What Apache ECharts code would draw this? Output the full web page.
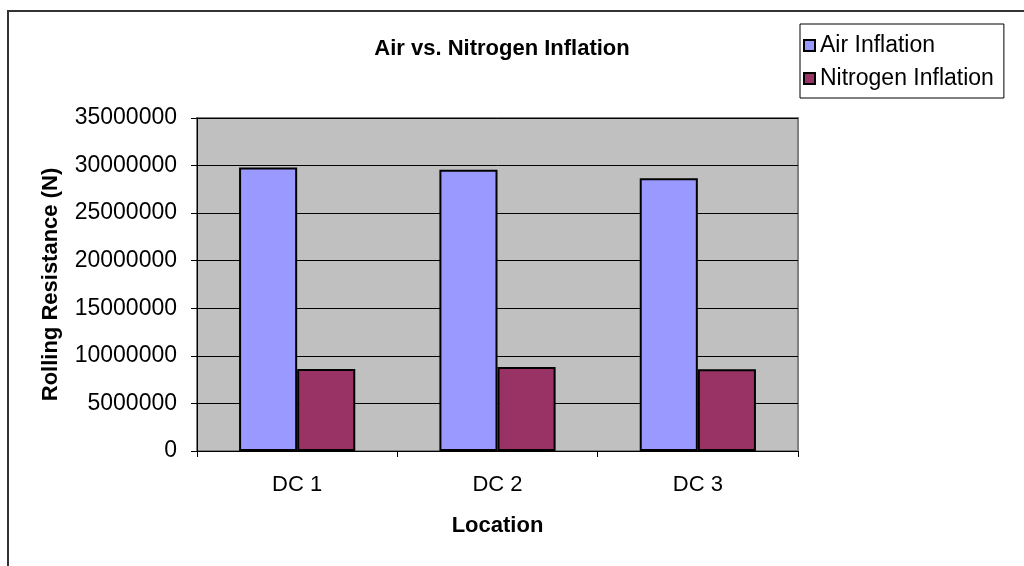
<!DOCTYPE html>
<html>
<head>
<meta charset="utf-8">
<script src="https://cdn.jsdelivr.net/npm/echarts@6/dist/echarts.min.js"></script>
<style>html,body{margin:0;padding:0;background:#fff;}#c{width:1024px;height:566px;}</style>
</head>
<body>
<div id="c"></div>
<script>
const categories = ['DC 1', 'DC 2', 'DC 3'];
const airInflation = [29800000, 29550000, 28680000];
const nitrogenInflation = [8620000, 8830000, 8590000];
const seriesNames = ['Air Inflation', 'Nitrogen Inflation'];
const titleText = 'Air vs. Nitrogen Inflation';
const xName = 'Location';
const yName = 'Rolling Resistance (N)';

const font = 'Liberation Sans, Arial, sans-serif';
const chart = echarts.init(document.getElementById('c'));
chart.setOption({
  animation: false,
  backgroundColor: '#fff',
  graphic: [{
    type: 'rect', left: 7, top: 10, z: -10,
    shape: { x: 0, y: 0, width: 1100, height: 700 },
    style: { fill: '#fff', stroke: '#333', lineWidth: 2 }
  }],
  title: {
    text: titleText, left: 497, top: 33, textAlign: 'center',
    textStyle: { fontFamily: font, fontSize: 22, fontWeight: 'bold', color: '#000' }
  },
  legend: {
    orient: 'vertical', left: 800, top: 24,
    padding: [10, 10, 8, 3], itemGap: 10,
    itemWidth: 11, itemHeight: 11,
    borderColor: '#000', borderWidth: 1, backgroundColor: '#fff',
    icon: 'rect',
    textStyle: { fontFamily: font, fontSize: 23, color: '#000' },
    data: seriesNames
  },
  grid: {
    left: 197, right: 226, top: 118, bottom: 115,
    show: true, backgroundColor: '#C0C0C0', borderColor: '#808080', borderWidth: 2
  },
  xAxis: {
    type: 'category', data: categories,
    name: xName, nameLocation: 'middle', nameGap: 64,
    nameTextStyle: { fontFamily: font, fontSize: 22, fontWeight: 'bold', color: '#000' },
    axisLine: { lineStyle: { color: '#000', width: 1 } },
    axisTick: { show: true, length: 6, lineStyle: { color: '#000' } },
    axisLabel: { fontFamily: font, fontSize: 22, color: '#000', margin: 23 },
    splitLine: { show: false }
  },
  yAxis: {
    type: 'value', min: 0, max: 35000000, interval: 5000000,
    name: yName, nameLocation: 'middle', nameGap: 135, nameRotate: 90,
    nameTextStyle: { fontFamily: font, fontSize: 22, fontWeight: 'bold', color: '#000' },
    axisLine: { show: true, lineStyle: { color: '#000', width: 1 } },
    axisTick: { show: true, length: 6, lineStyle: { color: '#000' } },
    axisLabel: { fontFamily: font, fontSize: 23, color: '#000', margin: 20,
      formatter: function (v) { return String(v); } },
    splitLine: { show: true, lineStyle: { color: '#000', width: 1 } }
  },
  series: [
    {
      name: seriesNames[0], type: 'bar', data: airInflation,
      barGap: '0%', barCategoryGap: '42%',
      itemStyle: { color: '#9999FF', borderColor: '#000', borderWidth: 2 }
    },
    {
      name: seriesNames[1], type: 'bar', data: nitrogenInflation,
      barGap: '0%', barCategoryGap: '42%',
      itemStyle: { color: '#993366', borderColor: '#000', borderWidth: 2 }
    }
  ]
});
</script>
</body>
</html>
